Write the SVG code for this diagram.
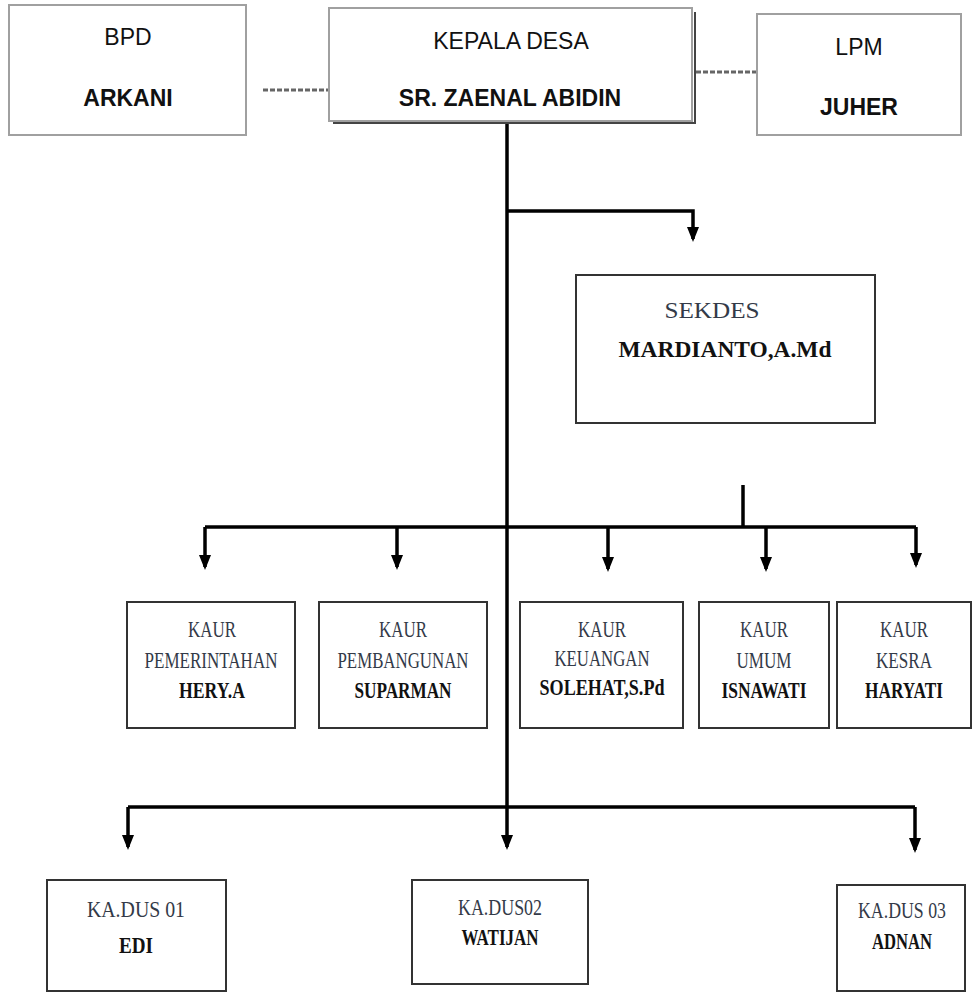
<svg xmlns="http://www.w3.org/2000/svg" width="972" height="993" viewBox="0 0 972 993">
<style>
.bg{fill:#ffffff}
.gbox{fill:#ffffff;stroke:#a0a0a0;stroke-width:2}
.dbox{fill:#ffffff;stroke:#333333;stroke-width:2}
.sans{font-family:"Liberation Sans",Arial,sans-serif;font-size:23px;fill:#111111;text-anchor:middle}
.sansb{font-family:"Liberation Sans",Arial,sans-serif;font-size:23px;font-weight:bold;fill:#111111;text-anchor:middle}
.ser{font-family:"Liberation Serif","Times New Roman",serif;font-size:24px;fill:#333a48;text-anchor:middle}
.serb{font-family:"Liberation Serif","Times New Roman",serif;font-size:23px;font-weight:bold;fill:#111111;text-anchor:middle}
.line{fill:none;stroke:#000000;stroke-width:3.5}
.dash{fill:none;stroke:#666666;stroke-width:3;stroke-dasharray:5 2}
</style>
<defs>
<marker id="arr" viewBox="0 0 15 12" refX="12" refY="6" markerWidth="15" markerHeight="12" markerUnits="userSpaceOnUse" orient="auto">
<path d="M0,0 L15,6 L0,12 z" fill="#000000"/>
</marker>
</defs>
<rect class="bg" x="0" y="0" width="972" height="993"/>

<g id="connectors">
<path class="dash" d="M263 90 H328"/>
<path class="dash" d="M696 72 H756"/>
<path class="line" d="M507 123 V847" marker-end="url(#arr)"/>
<path class="line" d="M507 211 H693 V239" marker-end="url(#arr)"/>
<path class="line" d="M743 485 V527"/>
<path class="line" d="M205 527 H916"/>
<path class="line" d="M205 527 V567" marker-end="url(#arr)"/>
<path class="line" d="M397 527 V567" marker-end="url(#arr)"/>
<path class="line" d="M608 527 V569" marker-end="url(#arr)"/>
<path class="line" d="M766 527 V569" marker-end="url(#arr)"/>
<path class="line" d="M916 527 V565" marker-end="url(#arr)"/>
<path class="line" d="M128 807 H915"/>
<path class="line" d="M128 807 V847" marker-end="url(#arr)"/>
<path class="line" d="M915 807 V850" marker-end="url(#arr)"/>
</g>

<g id="bpd">
<rect class="gbox" x="9" y="5" width="237" height="130"/>
<text class="sans" x="128" y="45" font-size="24">BPD</text>
<text class="sansb" x="128" y="106" font-size="24">ARKANI</text>
</g>

<g id="kepala-desa">
<path d="M333 123 H695 V12" fill="none" stroke="#444444" stroke-width="2"/>
<rect class="gbox" x="329" y="8" width="363" height="113"/>
<text class="sans" x="511" y="49">KEPALA DESA</text>
<text class="sansb" x="510" y="106">SR. ZAENAL ABIDIN</text>
</g>

<g id="lpm">
<rect class="gbox" x="757" y="14" width="204" height="121"/>
<text class="sans" x="859" y="55">LPM</text>
<text class="sansb" x="859" y="115">JUHER</text>
</g>

<g id="sekdes">
<rect class="dbox" x="576" y="275" width="299" height="148"/>
<text class="ser" x="712" y="318" font-size="30" textLength="95" lengthAdjust="spacingAndGlyphs">SEKDES</text>
<text class="serb" x="725" y="357" font-size="33" textLength="213" lengthAdjust="spacingAndGlyphs">MARDIANTO,A.Md</text>
</g>

<g id="kaur-pemerintahan">
<rect class="dbox" x="127" y="602" width="168" height="126"/>
<text class="ser" x="212" y="637" textLength="48" lengthAdjust="spacingAndGlyphs">KAUR</text>
<text class="ser" x="211" y="668" textLength="133" lengthAdjust="spacingAndGlyphs">PEMERINTAHAN</text>
<text class="serb" x="212" y="698" textLength="66" lengthAdjust="spacingAndGlyphs">HERY.A</text>
</g>

<g id="kaur-pembangunan">
<rect class="dbox" x="319" y="602" width="168" height="126"/>
<text class="ser" x="403" y="637" textLength="48" lengthAdjust="spacingAndGlyphs">KAUR</text>
<text class="ser" x="403" y="668" textLength="131" lengthAdjust="spacingAndGlyphs">PEMBANGUNAN</text>
<text class="serb" x="403" y="698" textLength="97" lengthAdjust="spacingAndGlyphs">SUPARMAN</text>
</g>

<g id="kaur-keuangan">
<rect class="dbox" x="520" y="602" width="163" height="126"/>
<text class="ser" x="602" y="637" textLength="48" lengthAdjust="spacingAndGlyphs">KAUR</text>
<text class="ser" x="602" y="666" textLength="95" lengthAdjust="spacingAndGlyphs">KEUANGAN</text>
<text class="serb" x="602" y="695" textLength="125" lengthAdjust="spacingAndGlyphs">SOLEHAT,S.Pd</text>
</g>

<g id="kaur-umum">
<rect class="dbox" x="699" y="602" width="130" height="126"/>
<text class="ser" x="764" y="637" textLength="48" lengthAdjust="spacingAndGlyphs">KAUR</text>
<text class="ser" x="764" y="668" textLength="55" lengthAdjust="spacingAndGlyphs">UMUM</text>
<text class="serb" x="764" y="698" textLength="85" lengthAdjust="spacingAndGlyphs">ISNAWATI</text>
</g>

<g id="kaur-kesra">
<rect class="dbox" x="837" y="602" width="134" height="126"/>
<text class="ser" x="904" y="637" textLength="48" lengthAdjust="spacingAndGlyphs">KAUR</text>
<text class="ser" x="904" y="668" textLength="56" lengthAdjust="spacingAndGlyphs">KESRA</text>
<text class="serb" x="904" y="698" textLength="78" lengthAdjust="spacingAndGlyphs">HARYATI</text>
</g>

<g id="kadus-01">
<rect class="dbox" x="47" y="880" width="179" height="111"/>
<text class="ser" x="136" y="917" font-size="26" textLength="98" lengthAdjust="spacingAndGlyphs">KA.DUS 01</text>
<text class="serb" x="136" y="953" font-size="26" textLength="34" lengthAdjust="spacingAndGlyphs">EDI</text>
</g>

<g id="kadus-02">
<rect class="dbox" x="412" y="880" width="176" height="104"/>
<text class="ser" x="500" y="915" font-size="22" textLength="84" lengthAdjust="spacingAndGlyphs">KA.DUS02</text>
<text class="serb" x="500" y="945" font-size="22" textLength="77" lengthAdjust="spacingAndGlyphs">WATIJAN</text>
</g>

<g id="kadus-03">
<rect class="dbox" x="837" y="885" width="128" height="106"/>
<text class="ser" x="902" y="918" font-size="23" textLength="88" lengthAdjust="spacingAndGlyphs">KA.DUS 03</text>
<text class="serb" x="902" y="949" font-size="23" textLength="60" lengthAdjust="spacingAndGlyphs">ADNAN</text>
</g>
</svg>
